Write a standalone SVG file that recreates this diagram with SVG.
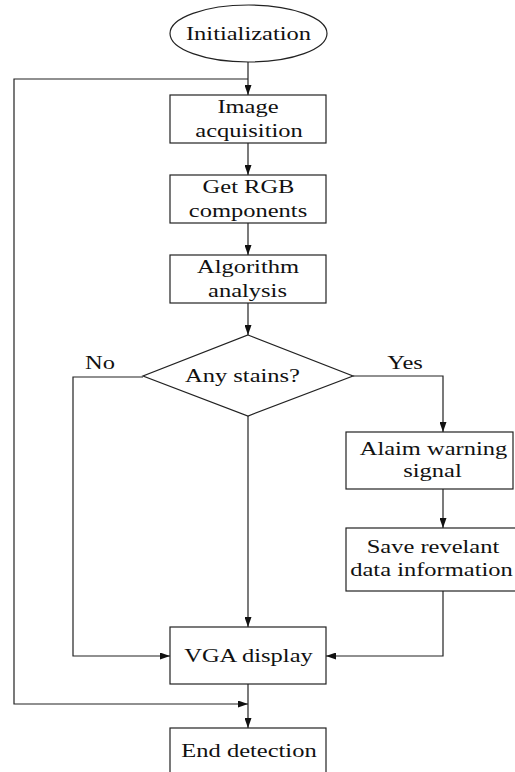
<svg xmlns="http://www.w3.org/2000/svg" width="515" height="772" viewBox="0 0 515 772" font-family="Liberation Serif" font-size="24.5">
<style>
.box{fill:#fff;stroke:#222;stroke-width:1.2}
.ln{fill:none;stroke:#222;stroke-width:1.2}
.t{fill:#111;text-anchor:middle}
</style>
<defs>
<marker id="ah" markerUnits="userSpaceOnUse" markerWidth="10" markerHeight="7" refX="10" refY="3.5" orient="auto">
<path d="M0,0 L10,3.5 L0,7 z" fill="#111"/>
</marker>
</defs>
<rect width="515" height="772" fill="#fff"/>
<g id="connectors">
<path class="ln" d="M248,62 V95" marker-end="url(#ah)"/>
<path class="ln" d="M248,79 H14 V704 H248" marker-end="url(#ah)"/>
<path class="ln" d="M248,143 V175" marker-end="url(#ah)"/>
<path class="ln" d="M248,223 V255" marker-end="url(#ah)"/>
<path class="ln" d="M248,303 V335" marker-end="url(#ah)"/>
<path class="ln" d="M248,416 V627" marker-end="url(#ah)"/>
<path class="ln" d="M143,377 H73 V656 H170" marker-end="url(#ah)"/>
<path class="ln" d="M353,376 H443 V432" marker-end="url(#ah)"/>
<path class="ln" d="M443,489 V528" marker-end="url(#ah)"/>
<path class="ln" d="M443,591 V656 H326" marker-end="url(#ah)"/>
<path class="ln" d="M248,684 V728" marker-end="url(#ah)"/>
<text class="t" transform="translate(100,369) scale(1,0.8)">No</text>
<text class="t" transform="translate(405,369) scale(1,0.8)">Yes</text>
</g>
<g id="init">
<ellipse class="box" cx="248.5" cy="33.5" rx="78.5" ry="28.5"/>
<text class="t" transform="translate(248.5,40) scale(1,0.8)">Initialization</text>
</g>
<g id="image">
<rect class="box" x="170" y="95" width="156" height="48"/>
<text class="t" transform="translate(248,113) scale(1,0.8)">Image</text>
<text class="t" transform="translate(249,137) scale(1,0.8)">acquisition</text>
</g>
<g id="rgb">
<rect class="box" x="170" y="175" width="156" height="48"/>
<text class="t" transform="translate(248.5,193) scale(1,0.8)">Get RGB</text>
<text class="t" transform="translate(248,217) scale(1,0.8)">components</text>
</g>
<g id="algo">
<rect class="box" x="170" y="255" width="156" height="48"/>
<text class="t" transform="translate(248,273) scale(1,0.8)">Algorithm</text>
<text class="t" transform="translate(247.5,297) scale(1,0.8)">analysis</text>
</g>
<g id="decision">
<polygon class="box" points="248,335 353,376 248,416 143,376"/>
<text class="t" transform="translate(242.5,382) scale(1,0.8)">Any stains?</text>
</g>
<g id="alarm">
<rect class="box" x="346" y="432" width="167" height="57"/>
<text class="t" transform="translate(433.5,455) scale(1,0.8)">Alaim warning</text>
<text class="t" transform="translate(432.5,477) scale(1,0.8)">signal</text>
</g>
<g id="save">
<rect class="box" x="346" y="528" width="170" height="63"/>
<text class="t" transform="translate(433,553) scale(1,0.8)">Save revelant</text>
<text class="t" transform="translate(431.5,576) scale(1,0.8)">data information</text>
</g>
<g id="vga">
<rect class="box" x="170" y="627" width="156" height="57"/>
<text class="t" transform="translate(248.5,662) scale(1,0.8)">VGA display</text>
</g>
<g id="end">
<rect class="box" x="170" y="728" width="156" height="50"/>
<text class="t" transform="translate(249,757) scale(1,0.8)">End detection</text>
</g>
</svg>
